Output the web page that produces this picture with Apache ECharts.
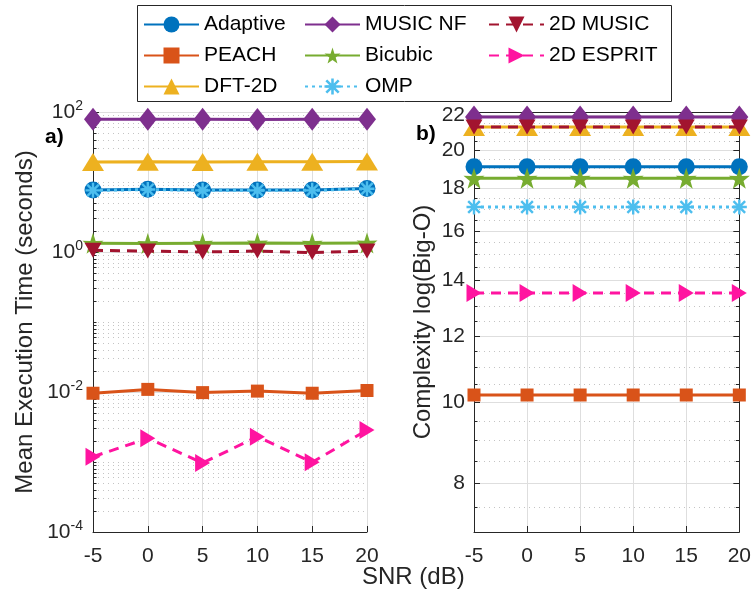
<!DOCTYPE html>
<html>
<head>
<meta charset="utf-8">
<script src="https://cdn.jsdelivr.net/npm/echarts@6/dist/echarts.min.js"></script>
<style>
  html, body { margin: 0; padding: 0; background: #fff; }
  #chart { width: 754px; height: 597px; }
</style>
</head>
<body>
<div id="chart"></div>
<script>
// SNR sweep (dB)
const snr = [-5, 0, 5, 10, 15, 20];

// a) mean execution time (seconds)
const timeAdaptive = [7.7, 7.9, 7.7, 7.7, 7.7, 8.1];
const timePeach    = [0.0096, 0.0109, 0.0098, 0.0103, 0.0096, 0.0105];
const timeDft2d    = [19.3, 19.4, 19.3, 19.4, 19.4, 19.6];
const timeMusicNf  = [79, 79, 79, 78, 79, 79];
const timeBicubic  = [1.33, 1.32, 1.33, 1.34, 1.33, 1.34];
const timeOmp      = [7.6, 7.8, 7.6, 7.6, 7.6, 8.0];
const timeMusic2d  = [1.06, 1.03, 1.0, 1.03, 0.98, 1.03];
const timeEsprit2d = [0.00119, 0.00218, 0.00097, 0.0023, 0.00099, 0.00286];

// b) complexity, log(Big-O)
const cxAdaptive = [19.1, 19.1, 19.1, 19.1, 19.1, 19.1];
const cxPeach    = [10.2, 10.2, 10.2, 10.2, 10.2, 10.2];
const cxDft2d    = [21.3, 21.3, 21.3, 21.3, 21.3, 21.3];
const cxMusicNf  = [21.9, 21.9, 21.9, 21.9, 21.9, 21.9];
const cxBicubic  = [18.5, 18.5, 18.5, 18.5, 18.5, 18.5];
const cxOmp      = [17.1, 17.1, 17.1, 17.1, 17.1, 17.1];
const cxMusic2d  = [21.3, 21.3, 21.3, 21.3, 21.3, 21.3];
const cxEsprit2d = [13.5, 13.5, 13.5, 13.5, 13.5, 13.5];

// tick labels
const snrTicks = [-5, 0, 5, 10, 15, 20];
const timeTicks = [1e-4, 1e-2, 1, 100];
const complexityTicks = [8, 10, 12, 14, 16, 18, 20, 22];

const methods = ['Adaptive', 'PEACH', 'DFT-2D', 'MUSIC NF', 'Bicubic', 'OMP', '2D MUSIC', '2D ESPRIT'];
const timeData = [timeAdaptive, timePeach, timeDft2d, timeMusicNf, timeBicubic, timeOmp, timeMusic2d, timeEsprit2d];
const cxData = [cxAdaptive, cxPeach, cxDft2d, cxMusicNf, cxBicubic, cxOmp, cxMusic2d, cxEsprit2d];

// marker shapes
const STAR = 'path://M50,0 L61.8,35.1 L97.6,34.5 L69,56.7 L79.4,90.5 L50,70 L20.6,90.5 L31,56.7 L2.4,34.5 L38.2,35.1 Z';
const ASTERISK = 'path://M0,42 L100,42 L100,58 L0,58 Z M42,0 L58,0 L58,100 L42,100 Z M5.6,17 L17,5.6 L94.4,83 L83,94.4 Z M83,5.6 L94.4,17 L17,94.4 L5.6,83 Z';
const TRI_DOWN = 'path://M0,0 L100,0 L50,100 Z';
const TRI_RIGHT = 'path://M0,0 L100,50 L0,100 Z';

const styles = [
  { color: '#0072BD', symbol: 'circle',   size: 17,       line: 'solid' },
  { color: '#D95319', symbol: 'rect',     size: [13, 13], line: 'solid' },
  { color: '#EDB120', symbol: 'triangle', size: [22, 18], line: 'solid' },
  { color: '#7E2F8E', symbol: 'diamond',  size: [18, 23], line: 'solid' },
  { color: '#77AC30', symbol: STAR,       size: [21, 21], line: 'solid' },
  { color: '#4DBEEE', symbol: ASTERISK,   size: [15, 15], line: [3, 4] },
  { color: '#A2142F', symbol: TRI_DOWN,   size: [17, 15], line: [10, 7] },
  { color: '#FF14A0', symbol: TRI_RIGHT,  size: [15, 18], line: [10, 7] }
];

const FONT = '"Liberation Sans", Arial, Helvetica, sans-serif';
const AXIS_COLOR = '#262626';
const GRID_MAJOR = '#dedede';
const GRID_MINOR = '#c4c4c4';

// minor log positions for the time axis
const timeMinor = [];
for (let e = -4; e <= 1; e++) {
  for (let d = 1; d <= 9; d++) {
    const v = Number((d * Math.pow(10, e)).toPrecision(3));
    if (d === 1 && e % 2 === 0) continue;
    timeMinor.push(v);
  }
}
// minor positions for the complexity axis (every 0.5)
const cxMinor = [];
for (let v = 7.5; v < 22.2; v += 0.5) {
  if (complexityTicks.indexOf(v) === -1) cxMinor.push(v);
}

const chart = echarts.init(document.getElementById('chart'), null, { renderer: 'canvas' });

const series = [];
methods.forEach((name, i) => {
  const s = styles[i];
  const common = {
    name: name,
    type: 'line',
    symbol: s.symbol,
    symbolSize: s.size,
    showSymbol: true,
    itemStyle: { color: s.color },
    lineStyle: { color: s.color, width: 3, type: s.line },
    emphasis: { disabled: true },
    z: 10 + i
  };
  series.push(Object.assign({}, common, {
    xAxisIndex: 0, yAxisIndex: 0,
    data: snr.map((x, k) => [x, timeData[i][k]])
  }));
  series.push(Object.assign({}, common, {
    xAxisIndex: 1, yAxisIndex: 2,
    data: snr.map((x, k) => [x, cxData[i][k]])
  }));
});

const xBase = {
  type: 'value', min: -5, max: 20, interval: 5,
  axisLine: { show: true, onZero: false, lineStyle: { color: AXIS_COLOR, width: 1 } },
  axisTick: { show: true, inside: true, length: 6, lineStyle: { color: AXIS_COLOR } },
  axisLabel: { show: true, margin: 14, fontSize: 21, color: AXIS_COLOR, fontFamily: FONT },
  splitLine: { show: true, lineStyle: { color: GRID_MAJOR, width: 1 } }
};

const legendBase = {
  orient: 'vertical', top: 14, padding: 0,
  itemWidth: 55, itemHeight: 20, itemGap: 10,
  selectedMode: false,
  textStyle: { fontSize: 21, color: '#000', fontFamily: FONT }
};

const yLine = { show: true, onZero: false, lineStyle: { color: AXIS_COLOR, width: 1 } };
const yNoLine = { show: false, onZero: false };

const option = {
  animation: false,
  backgroundColor: '#fff',
  grid: [
    { left: 93, top: 112, width: 274, height: 420 },
    { left: 474, top: 112, width: 266, height: 420, show: false }
  ],
  legend: [
    Object.assign({}, legendBase, { left: 143, data: methods.slice(0, 3) }),
    Object.assign({}, legendBase, { left: 304, data: methods.slice(3, 6) }),
    Object.assign({}, legendBase, { left: 488, data: methods.slice(6, 8) })
  ],
  xAxis: [
    Object.assign({}, xBase, { gridIndex: 0 }),
    Object.assign({}, xBase, { gridIndex: 1 }),
    {
      type: 'value', gridIndex: 1, position: 'top', min: -5, max: 20, interval: 5,
      axisLine: { show: true, onZero: false, lineStyle: { color: AXIS_COLOR, width: 1 } },
      axisTick: { show: true, inside: true, length: 6, lineStyle: { color: AXIS_COLOR } },
      axisLabel: { show: false },
      splitLine: { show: false }
    }
  ],
  yAxis: [
    // a) major decades
    {
      type: 'log', logBase: 10, gridIndex: 0, min: 1e-4, max: 100, position: 'left',
      axisLine: yLine,
      axisTick: { show: true, inside: true, length: 6, customValues: timeTicks, lineStyle: { color: AXIS_COLOR } },
      axisLabel: {
        show: true, customValues: timeTicks, margin: 10, fontSize: 21, color: AXIS_COLOR, fontFamily: FONT,
        formatter: v => '10{s|' + Math.round(Math.log10(v)) + '}',
        rich: { s: { fontSize: 14, color: AXIS_COLOR, fontFamily: FONT, verticalAlign: 'bottom', padding: [0, 0, 11, 0] } }
      },
      splitLine: { show: true, lineStyle: { color: GRID_MAJOR, width: 1 } },
      name: 'Mean Execution Time (seconds)', nameLocation: 'middle', nameGap: 56, nameRotate: 90,
      nameTextStyle: { fontSize: 24, color: AXIS_COLOR, fontFamily: FONT }
    },
    // a) minor log grid
    {
      type: 'log', logBase: 10, gridIndex: 0, min: 1e-4, max: 100, position: 'left',
      axisLine: yNoLine,
      axisTick: { show: true, inside: true, length: 3.5, customValues: timeMinor, lineStyle: { color: AXIS_COLOR } },
      axisLabel: { show: false },
      splitLine: { show: true, lineStyle: { color: GRID_MINOR, width: 1, type: [1, 4] } }
    },
    // b) major ticks
    {
      type: 'log', logBase: 10, gridIndex: 1, min: 7, max: 22.2, position: 'left',
      axisLine: yLine,
      axisTick: { show: true, inside: true, length: 6, customValues: complexityTicks, lineStyle: { color: AXIS_COLOR } },
      axisLabel: {
        show: true, customValues: complexityTicks, margin: 9, fontSize: 21, color: AXIS_COLOR, fontFamily: FONT,
        formatter: v => String(Math.round(v))
      },
      splitLine: { show: true, lineStyle: { color: GRID_MAJOR, width: 1 } },
      name: 'Complexity log(Big-O)', nameLocation: 'middle', nameGap: 39, nameRotate: 90,
      nameTextStyle: { fontSize: 24, color: AXIS_COLOR, fontFamily: FONT }
    },
    // b) minor grid
    {
      type: 'log', logBase: 10, gridIndex: 1, min: 7, max: 22.2, position: 'left',
      axisLine: yNoLine,
      axisTick: { show: true, inside: true, length: 3.5, customValues: cxMinor, lineStyle: { color: AXIS_COLOR } },
      axisLabel: { show: false },
      splitLine: { show: true, lineStyle: { color: GRID_MINOR, width: 1, type: [1, 4] } }
    },
    // b) right border, major ticks
    {
      type: 'log', logBase: 10, gridIndex: 1, min: 7, max: 22.2, position: 'right',
      axisLine: yLine,
      axisTick: { show: true, inside: true, length: 6, customValues: complexityTicks, lineStyle: { color: AXIS_COLOR } },
      axisLabel: { show: false },
      splitLine: { show: false }
    },
    // b) right border, minor ticks
    {
      type: 'log', logBase: 10, gridIndex: 1, min: 7, max: 22.2, position: 'right',
      axisLine: yNoLine,
      axisTick: { show: true, inside: true, length: 3.5, customValues: cxMinor, lineStyle: { color: AXIS_COLOR } },
      axisLabel: { show: false },
      splitLine: { show: false }
    }
  ],
  graphic: [
    {
      type: 'rect', z: 1, silent: true,
      shape: { x: 137.5, y: 5.5, width: 534, height: 96 },
      style: { fill: '#fff', stroke: AXIS_COLOR, lineWidth: 1 }
    },
    {
      type: 'text', z: 50, left: 45, top: 127,
      style: { text: 'a)', fontSize: 21, fontWeight: 'bold', fill: '#000', fontFamily: FONT }
    },
    {
      type: 'text', z: 50, left: 416, top: 124,
      style: { text: 'b)', fontSize: 21, fontWeight: 'bold', fill: '#000', fontFamily: FONT }
    },
    {
      type: 'text', z: 50, left: 362, top: 565,
      style: { text: 'SNR (dB)', fontSize: 24, fill: AXIS_COLOR, fontFamily: FONT }
    }
  ],
  series: series
};

chart.setOption(option);
</script>
</body>
</html>
